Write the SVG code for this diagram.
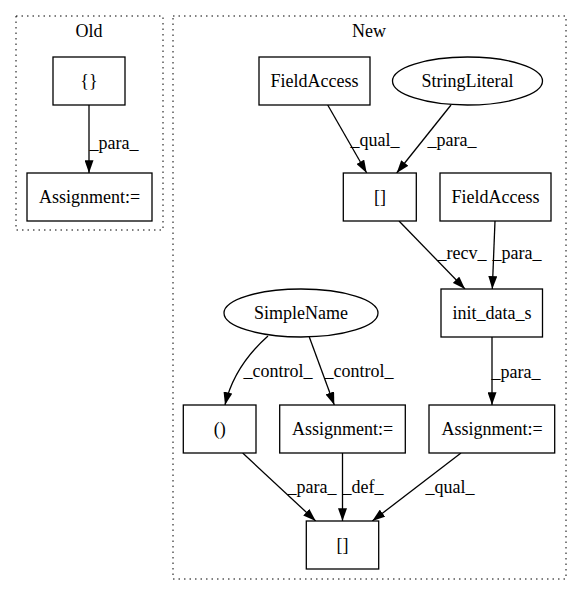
<svg xmlns="http://www.w3.org/2000/svg" width="581" height="596" viewBox="0 0 581 596">
<style>
text{font-family:"Liberation Serif","Times New Roman",serif;font-size:18px;fill:#000;text-anchor:middle}
.cl{fill:none;stroke:#000;stroke-width:1;stroke-dasharray:1.5,4}
.n{fill:#fff;stroke:#000;stroke-width:1.3}
.e{fill:none;stroke:#000;stroke-width:1.3}
</style>
<defs>
<marker id="ah" viewBox="0 0 10 7" refX="10" refY="3.5" markerWidth="13" markerHeight="9" markerUnits="userSpaceOnUse" orient="auto">
<path d="M0,0 L10,3.5 L0,7 z" fill="#000"/>
</marker>
</defs>
<rect width="581" height="596" fill="#fff"/>
<g id="cluster_old">
<rect class="cl" x="16" y="16" width="147" height="214"/>
<text x="89" y="37">Old</text>
</g>
<g id="cluster_new">
<rect class="cl" x="173" y="16" width="393" height="563"/>
<text x="369" y="37">New</text>
</g>
<g id="connectors">
<path class="e" marker-end="url(#ah)" d="M89,105 L89,173"/>
<text x="114" y="149">_para_</text>
<path class="e" marker-end="url(#ah)" d="M327.7,105 L366.7,173"/>
<text x="375" y="146">_qual_</text>
<path class="e" marker-end="url(#ah)" d="M451,105 L396.7,173"/>
<text x="452" y="146">_para_</text>
<path class="e" marker-end="url(#ah)" d="M399,221 L465,289"/>
<text x="462" y="259">_recv_</text>
<path class="e" marker-end="url(#ah)" d="M495,221 L492.3,289"/>
<text x="517" y="259">_para_</text>
<path class="e" marker-end="url(#ah)" d="M492,337 L492,405"/>
<text x="516" y="378">_para_</text>
<path class="e" marker-end="url(#ah)" d="M268,336 C250,352 232,375 225,405"/>
<text x="278" y="377">_control_</text>
<path class="e" marker-end="url(#ah)" d="M309.3,337 L334.3,405"/>
<text x="359" y="377">_control_</text>
<path class="e" marker-end="url(#ah)" d="M242.7,453 L315.7,521"/>
<text x="312" y="493">_para_</text>
<path class="e" marker-end="url(#ah)" d="M342.5,453 L342.5,521"/>
<text x="363" y="493">_def_</text>
<path class="e" marker-end="url(#ah)" d="M461,453 L372.3,521"/>
<text x="450" y="493">_qual_</text>
</g>
<g id="old_braces">
<rect class="n" x="53" y="57" width="72" height="48"/>
<text x="89" y="87">{}</text>
</g>
<g id="old_assignment">
<rect class="n" x="27" y="173" width="125" height="48"/>
<text x="89.5" y="203">Assignment:=</text>
</g>
<g id="fieldaccess1">
<rect class="n" x="259" y="57" width="111" height="48"/>
<text x="314.5" y="87">FieldAccess</text>
</g>
<g id="stringliteral">
<ellipse class="n" cx="467.5" cy="81" rx="75" ry="24"/>
<text x="467.5" y="87">StringLiteral</text>
</g>
<g id="index1">
<rect class="n" x="343.3" y="173" width="73" height="48"/>
<text x="380" y="203">[]</text>
</g>
<g id="fieldaccess2">
<rect class="n" x="440" y="173" width="111" height="48"/>
<text x="495.5" y="203">FieldAccess</text>
</g>
<g id="init_data_s">
<rect class="n" x="441" y="289" width="101.5" height="48"/>
<text x="492" y="319">init_data_s</text>
</g>
<g id="simplename">
<ellipse class="n" cx="301" cy="313" rx="77" ry="24"/>
<text x="301" y="319">SimpleName</text>
</g>
<g id="paren">
<rect class="n" x="183.3" y="405" width="72.7" height="48"/>
<text x="219.7" y="435">()</text>
</g>
<g id="assignment2">
<rect class="n" x="279.7" y="405" width="125.6" height="48"/>
<text x="342.5" y="435">Assignment:=</text>
</g>
<g id="assignment3">
<rect class="n" x="429" y="405" width="125.7" height="48"/>
<text x="492" y="435">Assignment:=</text>
</g>
<g id="index2">
<rect class="n" x="306.3" y="521" width="72.4" height="48"/>
<text x="342.5" y="551">[]</text>
</g>
</svg>
